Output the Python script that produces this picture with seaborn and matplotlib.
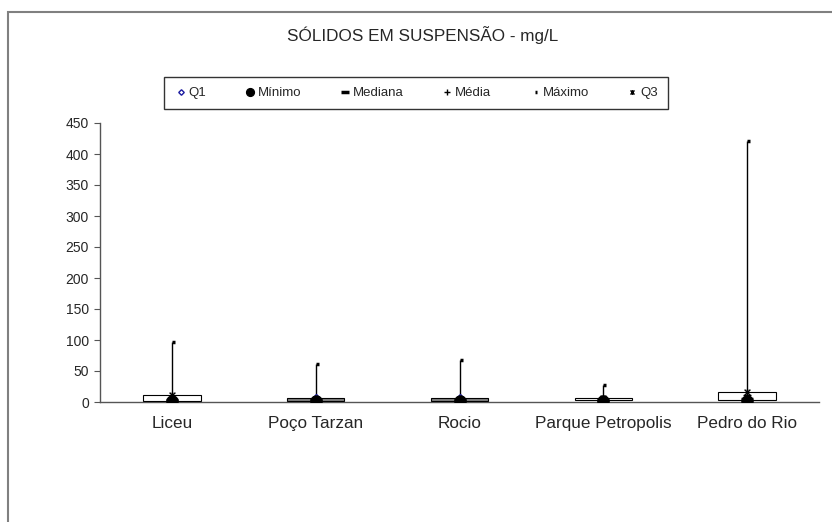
import numpy as np
import matplotlib
matplotlib.use("Agg")
import matplotlib.pyplot as plt
from matplotlib.path import Path
from matplotlib.patches import Rectangle
import seaborn as sns

sns.set_style("white")
plt.rcParams['font.family'] = ['Liberation Sans', 'DejaVu Sans']

# data (mg/L)
sites = ["Liceu", "Poço Tarzan", "Rocio", "Parque Petropolis", "Pedro do Rio"]
q1 = [2, 6, 6, 3, 3]
minimo = [1, 1, 1, 1, 1]
mediana = [3, 3, 3, 3, 5]
media = [7, 4, 4, 5, 12]
maximo = [97, 61, 68, 27, 421]
q3 = [11, 2, 2, 7, 16]

x = np.arange(len(sites))

fig = plt.figure(figsize=(8.32, 5.22), dpi=100)
ax = fig.add_axes([100 / 832, 1 - 402 / 522, 719 / 832, 279 / 522])

# outer chart frame (only left and top edges visible in the picture)
fig.patches.append(Rectangle((8 / 832, -0.2), 1.5, 1.2 - 12 / 522,
                             transform=fig.transFigure, fill=False,
                             edgecolor='#808080', linewidth=1.5))

sns.despine(ax=ax)

# high-low lines (min to max)
ax.vlines(x, minimo, maximo, color='black', linewidth=1, zorder=2)

# up/down bars between Q1 and Q3
for xi, a, b in zip(x, q1, q3):
    face = 'white' if b >= a else '#7f7f7f'
    ax.bar(xi, b - a, bottom=a, width=0.4, color=face, edgecolor='black',
           linewidth=0.8, zorder=3)

star = Path([(-1, -1), (1, 1), (-1, 1), (1, -1), (0, -1.2), (0, 1.2)],
            [Path.MOVETO, Path.LINETO, Path.MOVETO, Path.LINETO, Path.MOVETO, Path.LINETO])
right_dash = Path([(0, 0), (1, 0)], [Path.MOVETO, Path.LINETO])

series = [
    ("Q1", q1, dict(marker='D', markersize=4, markerfacecolor='white',
                    markeredgecolor='#1a1aa0', markeredgewidth=1)),
    ("Mínimo", minimo, dict(marker='o', markersize=8, color='black')),
    ("Mediana", mediana, dict(marker='_', markersize=8, color='black', markeredgewidth=2.5)),
    ("Média", media, dict(marker='+', markersize=6, color='black', markeredgewidth=1)),
    ("Máximo", maximo, dict(marker=right_dash, markersize=5, color='black', markeredgewidth=2.5)),
    ("Q3", q3, dict(marker=star, markersize=5, color='black', markeredgewidth=1)),
]
for name, vals, kw in series:
    ax.plot(x, vals, linestyle='none', label=name, zorder=4, **kw)

ax.set_xlim(-0.5, len(sites) - 0.5)
ax.set_ylim(0, 450)
ax.set_yticks(np.arange(0, 451, 50))
ax.set_xticks(x)
ax.set_xticklabels(sites, fontsize=12.3)
ax.set_xticks(np.arange(0.5, len(sites) - 0.5, 1), minor=True)
ax.tick_params(axis='x', which='major', length=0, pad=10)
ax.tick_params(axis='x', which='minor', length=4, direction='out', color='#555555')
ax.tick_params(axis='y', length=4, direction='out', color='#555555', labelsize=10, pad=4)
ax.tick_params(left=True)
for side in ['left', 'bottom']:
    ax.spines[side].set_color('#555555')
    ax.spines[side].set_linewidth(1)

fig.text(423 / 832, 1 - 35 / 522, "SÓLIDOS EM SUSPENSÃO - mg/L", ha='center', va='center', fontsize=12.3)

handles, labels = ax.get_legend_handles_labels()
leg = fig.legend(handles, labels, loc='center', bbox_to_anchor=(416 / 832, 1 - 93 / 522),
                 ncol=6, frameon=True, fancybox=False, edgecolor='black', fontsize=9.5,
                 handletextpad=0.1, columnspacing=2.8, borderpad=0.75, handlelength=1.0,
                 markerscale=0.7)
leg.get_frame().set_linewidth(1)

fig.savefig("out.png", dpi=100)
